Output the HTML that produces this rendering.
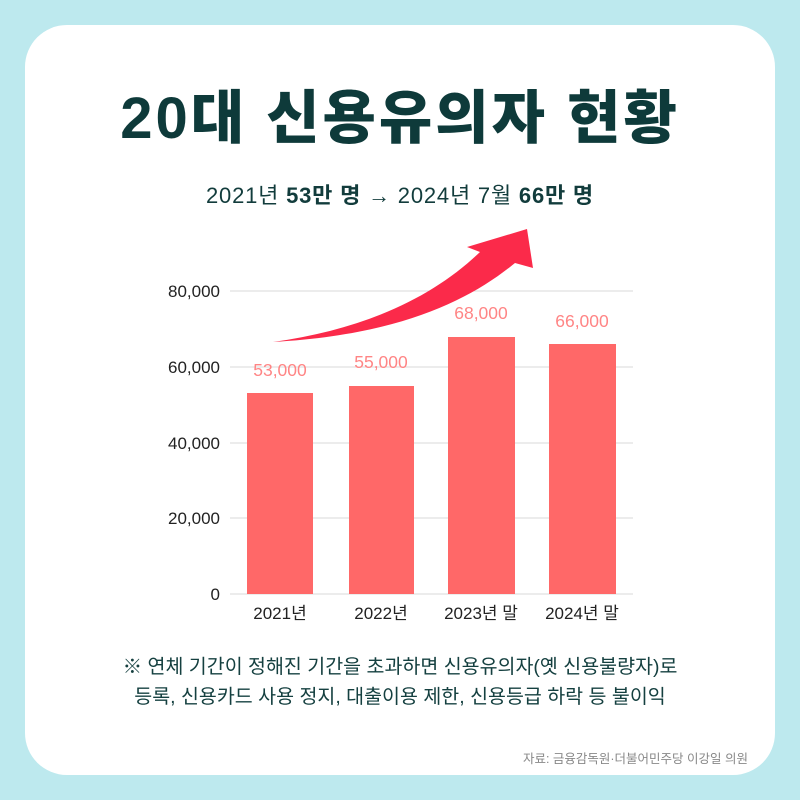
<!DOCTYPE html>
<html><head><meta charset="utf-8"><style>
body{margin:0;width:800px;height:800px;background:#bde9ee;font-family:"Liberation Sans","Noto Sans CJK KR",sans-serif;position:relative;overflow:hidden}
.card{position:absolute;left:25px;top:25px;width:750px;height:750px;background:#fff;border-radius:42px}
.t{position:absolute;left:0;width:800px;text-align:center}
</style></head><body>
<div class="card"></div>
<div class="t" style="top:84px;font-size:58px;font-weight:900;color:#0e3a3a;letter-spacing:3px;line-height:70px">20대 신용유의자 현황</div>
<div class="t" style="top:178px;font-size:22px;color:#123c3c;letter-spacing:0.8px">2021년 <b>53만 명</b> → 2024년 7월 <b>66만 명</b></div>
<svg style="position:absolute;left:0;top:0" width="800" height="800">
<g stroke="#d9d9d9" stroke-width="1">
<line x1="230" y1="291" x2="633" y2="291"/><line x1="230" y1="367" x2="633" y2="367"/>
<line x1="230" y1="443" x2="633" y2="443"/><line x1="230" y1="518" x2="633" y2="518"/>
<line x1="230" y1="594" x2="633" y2="594"/></g>
<g font-size="17" fill="#222" text-anchor="end" font-family="Liberation Sans, sans-serif">
<text x="220" y="297">80,000</text><text x="220" y="373">60,000</text><text x="220" y="449">40,000</text><text x="220" y="524">20,000</text><text x="220" y="600">0</text></g>
<g fill="#ff6868">
<rect x="247" y="393" width="66" height="201"/><rect x="349" y="386" width="65" height="208"/>
<rect x="448" y="337" width="67" height="257"/><rect x="549" y="344" width="67" height="250"/></g>
<g font-size="17.5" fill="#ff8585" text-anchor="middle" font-family="Liberation Sans, sans-serif">
<text x="280" y="376">53,000</text><text x="381" y="368">55,000</text><text x="481" y="319">68,000</text><text x="582" y="327">66,000</text></g>
<g font-size="17" fill="#222" text-anchor="middle">
<text x="280" y="619">2021년</text><text x="381" y="619">2022년</text><text x="481" y="619">2023년 말</text><text x="582" y="619">2024년 말</text></g>
<path d="M273,342 C360,330 430,300 480,252 L467,247 L527,229 L533,268 L515,263 C470,300 400,335 273,342 Z" fill="#fb2a4a"/>
</svg>
<div class="t" style="top:652px;font-size:19.5px;color:#154040;line-height:30px">※ 연체 기간이 정해진 기간을 초과하면 신용유의자(옛 신용불량자)로<br>등록, 신용카드 사용 정지, 대출이용 제한, 신용등급 하락 등 불이익</div>
<div style="position:absolute;right:52px;top:748px;font-size:12.5px;color:#888">자료: 금융감독원·더불어민주당 이강일 의원</div>
</body></html>
